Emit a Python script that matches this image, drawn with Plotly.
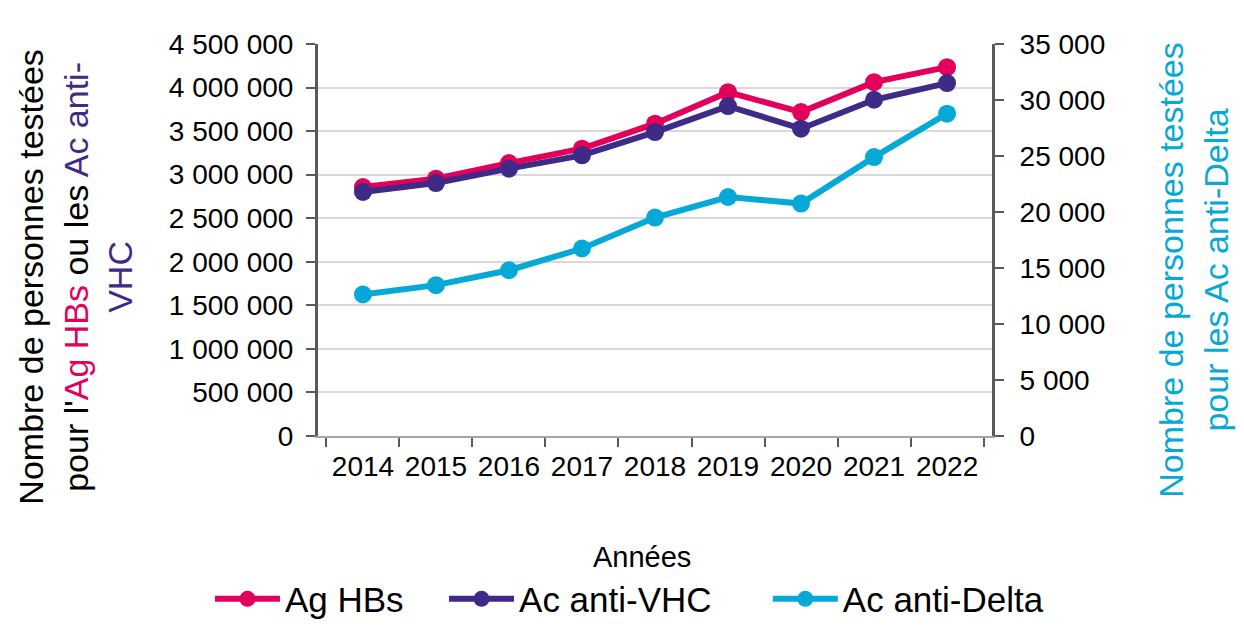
import plotly.graph_objects as go

years = ["2014", "2015", "2016", "2017", "2018", "2019", "2020", "2021", "2022"]
ag_hbs = [2858000, 2954000, 3133000, 3298000, 3585000, 3947000, 3718000, 4062000, 4234000]
ac_vhc = [2801000, 2904000, 3069000, 3222000, 3489000, 3787000, 3528000, 3860000, 4051000]
ac_delta = [12640, 13470, 14800, 16740, 19500, 21340, 20750, 24900, 28780]

C_HBS = "#e3005b"
C_VHC = "#3e2a87"
C_DELTA = "#05a8d6"
FONT = "Liberation Sans, Arial, sans-serif"

fig = go.Figure()
fig.add_trace(go.Scatter(x=years, y=ag_hbs, name="Ag HBs", mode="lines+markers", legend="legend",
                         line=dict(color=C_HBS, width=6), marker=dict(size=18, color=C_HBS)))
fig.add_trace(go.Scatter(x=years, y=ac_vhc, name="Ac anti-VHC", mode="lines+markers", legend="legend2",
                         line=dict(color=C_VHC, width=6), marker=dict(size=18, color=C_VHC)))
fig.add_trace(go.Scatter(x=years, y=ac_delta, name="Ac anti-Delta", mode="lines+markers", legend="legend3",
                         line=dict(color=C_DELTA, width=6), marker=dict(size=18, color=C_DELTA),
                         yaxis="y2"))

axis_line = "#595959"
leg_common = dict(orientation="h", xanchor="left", y=-0.416, yanchor="middle",
                  font=dict(size=35), bgcolor="rgba(0,0,0,0)", itemwidth=65)
fig.update_layout(
    width=1236, height=625,
    margin=dict(l=310, r=252, t=36, b=197, autoexpand=False),
    paper_bgcolor="white", plot_bgcolor="white",
    separators=", ",
    font=dict(family=FONT, size=28, color="black"),
    showlegend=True,
    legend=dict(x=-0.1603, **leg_common),
    legend2=dict(x=0.1870, **leg_common),
    legend3=dict(x=0.6674, **leg_common),
    xaxis=dict(type="category", tickson="boundaries", ticks="outside", ticklen=9,
               tickcolor=axis_line, tickwidth=2, showline=True, linecolor="#a6a6a6", linewidth=2,
               showgrid=False, tickfont=dict(size=28), automargin=False, ticklabelstandoff=4),
    yaxis=dict(range=[0, 4500000], dtick=500000, tickformat=",d", ticks="outside", ticklen=9,
               tickcolor=axis_line, tickwidth=2, showline=True, linecolor=axis_line, linewidth=3,
               gridcolor="#d9d9d9", gridwidth=2, zeroline=False, tickfont=dict(size=28),
               automargin=False, ticklabelstandoff=7),
    yaxis2=dict(range=[0, 35000], dtick=5000, tickformat=",d", overlaying="y", side="right",
                ticks="outside", ticklen=9, tickcolor=axis_line, tickwidth=2, showline=True,
                linecolor=axis_line, linewidth=3, showgrid=False, zeroline=False,
                tickfont=dict(size=28), automargin=False, ticklabelstandoff=10),
)

fig.add_annotation(
    xref="paper", yref="paper", x=0.481, y=-0.309, xanchor="center", yanchor="middle",
    showarrow=False, text="Années", font=dict(size=29, color="black"),
)
fig.add_annotation(
    xref="paper", yref="paper", x=-0.3605, y=0.404, xanchor="center", yanchor="middle",
    textangle=-90, showarrow=False, align="center",
    font=dict(size=34, color="black"),
    text=("Nombre de personnes testées<br>pour l'<span style='color:%s'>Ag HBs</span> ou les "
          "<span style='color:%s'>Ac anti-</span><br><span style='color:%s'>VHC</span>")
         % (C_HBS, C_VHC, C_VHC),
)
fig.add_annotation(
    xref="paper", yref="paper", x=1.299, y=0.423, xanchor="center", yanchor="middle",
    textangle=-90, showarrow=False, align="center",
    font=dict(size=34, color=C_DELTA),
    text="Nombre de personnes testées<br>pour les Ac anti-Delta",
)

fig.write_html("out.html")
